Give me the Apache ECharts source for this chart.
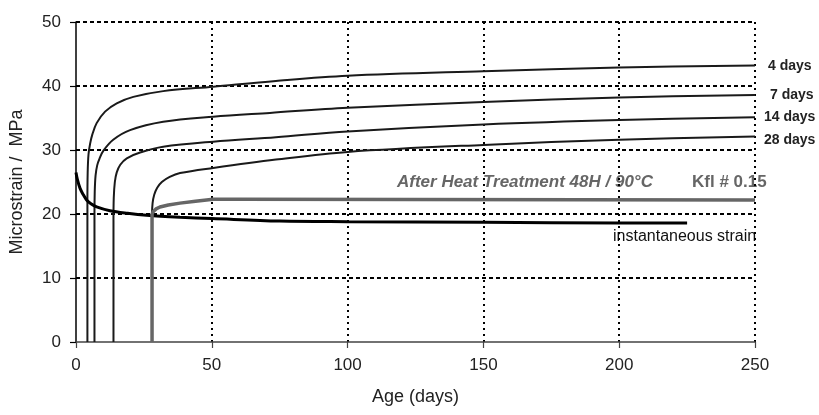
<!DOCTYPE html>
<html>
<head>
<meta charset="utf-8">
<script src="https://cdn.jsdelivr.net/npm/echarts@6/dist/echarts.min.js"></script>
<style>
html,body{margin:0;padding:0;background:#fff;}
#chart{width:819px;height:415px;}
</style>
</head>
<body>
<div id="chart"></div>
<script>
// ---- data (age in days, value in microstrain / MPa) ----
const xTicks = [0, 50, 100, 150, 200, 250];
const yTicks = [0, 10, 20, 30, 40, 50];

const creep4 = [[4.2,0],[4.2,22],[4.3,26.5],[4.6,29.3],[5.2,31.0],[6.0,32.4],[7.6,34.2],[10.7,36.0],[15,37.3],[21.1,38.3],[32.1,39.2],[50.5,39.9],[73.6,40.8],[100,41.6],[150,42.3],[200,42.9],[250,43.2]];
const creep7 = [[6.8,0],[6.8,20],[6.9,23.5],[7.2,26.0],[7.8,27.6],[8.7,28.7],[10.1,29.9],[13.7,31.6],[19.9,33.1],[32.1,34.4],[50.5,35.2],[71.4,35.8],[100,36.6],[150,37.5],[200,38.2],[250,38.6]];
const creep14 = [[13.8,0],[13.8,19],[13.9,22.5],[14.3,25.0],[15.0,26.5],[16.3,27.7],[18.7,28.7],[23.6,29.6],[32.1,30.5],[50.5,31.3],[73.6,32.0],[100,32.9],[150,34.0],[200,34.7],[250,35.1]];
const creep28 = [[28,20],[28.2,21.7],[28.8,23.0],[29.9,24.1],[31.6,25.0],[34.5,25.8],[38.3,26.4],[50.5,27.2],[73.6,28.5],[100,29.7],[150,30.8],[200,31.6],[250,32.1]];
const instantaneous = [[0,26.5],[0.5,25.4],[1.5,24.0],[2.7,23.0],[3.9,22.2],[5.5,21.6],[7.6,21.1],[12.5,20.5],[19,20.1],[26,19.8],[38.3,19.5],[50,19.3],[75,18.9],[100,18.8],[150,18.7],[200,18.6],[225,18.6]];
const heatTreated = [[28,0],[28,20],[28.5,20.4],[29.5,20.8],[30.9,21.1],[34,21.4],[38.3,21.7],[44,22.0],[50.5,22.3],[60,22.3],[250,22.2]];

const creepNames = ['4 days', '7 days', '14 days', '28 days'];
const creepSets = [creep4, creep7, creep14, creep28];
const labelOffsets = [[13, 1], [15, 0], [9, 0], [9, 4]];

const chart = echarts.init(document.getElementById('chart'));
const font = 'Arial, "Liberation Sans", sans-serif';

const creepSeries = creepSets.map((d, i) => ({
  name: creepNames[i],
  type: 'line',
  data: d,
  showSymbol: false,
  symbol: 'none',
  smooth: 0.35,
  lineStyle: { color: '#1a1a1a', width: 2 },
  z: 3,
  endLabel: {
    show: true,
    formatter: creepNames[i],
    fontFamily: font,
    fontWeight: 'bold',
    fontSize: 14,
    color: '#222',
    distance: 0,
    offset: labelOffsets[i]
  }
}));

const option = {
  animation: false,
  backgroundColor: '#fff',
  grid: { left: 76, right: 64, top: 22, bottom: 73, containLabel: false },
  xAxis: {
    type: 'value', min: 0, max: 250, interval: 50,
    name: 'Age (days)', nameLocation: 'middle', nameGap: 46,
    nameTextStyle: { fontFamily: font, fontSize: 18, color: '#222' },
    axisLine: { show: true, onZero: false, lineStyle: { color: '#444', width: 1.5 } },
    axisTick: { show: true, length: 6, lineStyle: { color: '#444', width: 1.2 } },
    axisLabel: { fontFamily: font, fontSize: 17, color: '#222', margin: 15,
      formatter: v => xTicks.includes(v) ? String(v) : '' },
    splitLine: { show: true, showMinLine: false, lineStyle: {
      color: ['#000', '#000', '#000', '#000', '#000', '#888'], width: 2, type: [2, 4] } }
  },
  yAxis: {
    type: 'value', min: 0, max: 50, interval: 10,
    name: 'Microstrain /  MPa', nameLocation: 'middle', nameGap: 50,
    nameTextStyle: { fontFamily: font, fontSize: 18, color: '#222' },
    axisLine: { show: true, lineStyle: { color: '#000', width: 1.5 } },
    axisTick: { show: true, length: 6, lineStyle: { color: '#000', width: 1.2 } },
    axisLabel: { fontFamily: font, fontSize: 17, color: '#222', margin: 15,
      formatter: v => yTicks.includes(v) ? String(v) : '' },
    splitLine: { show: true, showMinLine: false, lineStyle: {
      color: ['#000', '#000', '#000', '#000', '#000', '#888'], width: 1.8, type: [4, 3] } }
  },
  series: [
    ...creepSeries,
    {
      name: 'instantaneous strain', type: 'line', data: instantaneous,
      showSymbol: false, symbol: 'none', smooth: 0.35,
      lineStyle: { color: '#000', width: 3 }, z: 4
    },
    {
      name: 'After Heat Treatment', type: 'line', data: heatTreated,
      showSymbol: false, symbol: 'none',
      lineStyle: { color: '#666', width: 3.5 }, z: 5
    }
  ],
  graphic: [
    { type: 'text', left: 397, top: 174, style: { text: 'After Heat Treatment 48H / 90°C',
      font: 'italic bold 17px Arial, "Liberation Sans", sans-serif', fill: '#666' } },
    { type: 'text', left: 692, top: 174, style: { text: 'Kfl # 0.15',
      font: 'bold 17px Arial, "Liberation Sans", sans-serif', fill: '#666' } },
    { type: 'text', left: 613, top: 229, style: { text: 'instantaneous strain',
      font: '16px Arial, "Liberation Sans", sans-serif', fill: '#111' } }
  ]
};
chart.setOption(option);
</script>
</body>
</html>
